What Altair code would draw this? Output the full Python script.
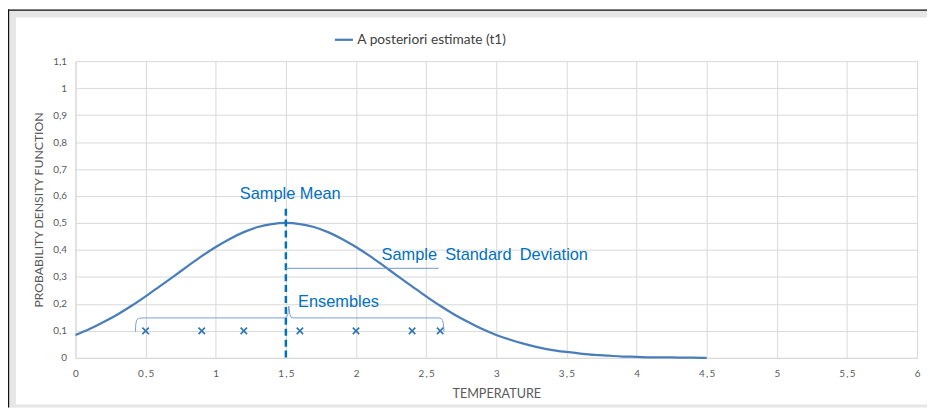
import altair as alt
import pandas as pd

# ---- data ----
temps = [0.0, 0.1, 0.2, 0.3, 0.4, 0.5, 0.6, 0.7, 0.8, 0.9, 1.0, 1.1, 1.2, 1.3, 1.4, 1.5,
         1.6, 1.7, 1.8, 1.9, 2.0, 2.1, 2.2, 2.3, 2.4, 2.5, 2.6, 2.7, 2.8, 2.9, 3.0,
         3.1, 3.2, 3.3, 3.4, 3.5, 3.6, 3.7, 3.8, 3.9, 4.0, 4.1, 4.2, 4.3, 4.4, 4.5]
pdf_vals = [0.085, 0.107, 0.133, 0.161, 0.193, 0.228, 0.265, 0.302, 0.340, 0.377, 0.411,
            0.441, 0.466, 0.485, 0.496, 0.500, 0.496, 0.485, 0.466, 0.441, 0.411, 0.377,
            0.340, 0.302, 0.265, 0.228, 0.193, 0.161, 0.133, 0.107, 0.085, 0.067, 0.052,
            0.039, 0.029, 0.022, 0.016, 0.011, 0.008, 0.005, 0.004, 0.002, 0.002, 0.001,
            0.001, 0.000]
series_name = "A posteriori estimate (t1)"

ensemble_x = [0.5, 0.9, 1.2, 1.6, 2.0, 2.4, 2.6]
ensemble_y = [0.1, 0.1, 0.1, 0.1, 0.1, 0.1, 0.1]

sample_mean = 1.5
mean_line_top = 0.553
mean_line_bottom = -0.01
std_end = 2.59
std_level = 0.332

brace_x = [0.427, 0.430, 0.436, 0.450, 0.470, 1.490, 1.505, 1.514, 1.521, 1.528, 1.537, 1.552,
           2.590, 2.607, 2.618, 2.624, 2.627]
brace_y = [0.097, 0.125, 0.140, 0.146, 0.148, 0.148, 0.151, 0.162, 0.192, 0.162, 0.151, 0.148,
           0.148, 0.146, 0.138, 0.122, 0.097]

labels_text = ["Sample Mean", "Sample\u2002Standard\u2002Deviation", "Ensembles"]
labels_x = [1.531, 2.182, 1.587]
labels_y = [0.608, 0.380, 0.207]
labels_align = ["center", "left", "left"]

x_ticks = [0, 0.5, 1, 1.5, 2, 2.5, 3, 3.5, 4, 4.5, 5, 5.5, 6]
y_ticks = [0, 0.1, 0.2, 0.3, 0.4, 0.5, 0.6, 0.7, 0.8, 0.9, 1, 1.1]

# ---- tables ----
curve_df = pd.DataFrame({"t": temps, "p": pdf_vals, "s": series_name})
ens_df = pd.DataFrame({"t": ensemble_x, "p": ensemble_y})
mean_df = pd.DataFrame({"t": [sample_mean], "p": [mean_line_top], "p2": [mean_line_bottom]})
std_df = pd.DataFrame({"t": [sample_mean], "t2": [std_end], "p": [std_level]})
brace_df = pd.DataFrame({"t": brace_x, "p": brace_y, "o": list(range(len(brace_x)))})
lab_df = pd.DataFrame({"txt": labels_text, "t": labels_x, "p": labels_y, "al": labels_align})

W, H = 848, 299
PADL, PADT, PADR, PADB = 68, 52, 10, 50

x_scale = alt.Scale(domain=[0, 6], nice=False)
y_scale = alt.Scale(domain=[0, 1.1], nice=False)

AXIS_GREY = "#595959"
FONT = "Lato"

x_axis = alt.Axis(values=x_ticks, tickCount=len(x_ticks), title="TEMPERATURE", grid=True, ticks=False,
                  labelExpr="replace(toString(datum.value), '.', '\u2009,\u2009')",
                  labelFont=FONT, labelFontSize=10, labelColor=AXIS_GREY, labelPadding=11,
                  labelOverlap=False,
                  titleFont=FONT, titleFontSize=12.7, titleFontWeight="normal",
                  titleColor=AXIS_GREY, titlePadding=9,
                  domainColor="#d9d9d9", gridColor="#d9d9d9", labelFlush=False)
y_axis = alt.Axis(values=y_ticks, tickCount=len(y_ticks), title="PROBABILITY DENSITY FUNCTION",
                  grid=True, ticks=False,
                  labelExpr="replace(toString(datum.value), '.', ',')",
                  labelFont=FONT, labelFontSize=10, labelColor=AXIS_GREY, labelPadding=9,
                  labelOverlap=False,
                  titleFont=FONT, titleFontSize=12.3, titleFontWeight="normal",
                  titleColor=AXIS_GREY, titlePadding=7,
                  domainColor="#d9d9d9", gridColor="#d9d9d9")

X = alt.X("t:Q", scale=x_scale, axis=x_axis)
Y = alt.Y("p:Q", scale=y_scale, axis=y_axis)

one = alt.Data(values=[{"a": 1}])
FRAME = "#e6e6e6"

frame_left = alt.Chart(one).mark_rect(color=FRAME).encode(
    x=alt.value(-PADL), x2=alt.value(-PADL + 8), y=alt.value(-PADT), y2=alt.value(H + PADB))
frame_top = alt.Chart(one).mark_rect(color=FRAME).encode(
    x=alt.value(-PADL), x2=alt.value(W + PADR), y=alt.value(-PADT), y2=alt.value(-PADT + 8))
frame_bottom = alt.Chart(one).mark_rect(color=FRAME).encode(
    x=alt.value(-PADL), x2=alt.value(W + PADR), y=alt.value(H + PADB - 3), y2=alt.value(H + PADB))
black_v = alt.Chart(one).mark_rule(color="#111111", strokeWidth=1.2).encode(
    x=alt.value(-PADL + 0.6), y=alt.value(-PADT), y2=alt.value(H + PADB))
black_h = alt.Chart(one).mark_rule(color="#111111", strokeWidth=1.2).encode(
    x=alt.value(-PADL), x2=alt.value(W + PADR), y=alt.value(-PADT + 0.6))

curve = alt.Chart(curve_df).mark_line(strokeWidth=2.25, interpolate="monotone").encode(
    x=X, y=Y,
    color=alt.Color("s:N", scale=alt.Scale(domain=[series_name], range=["#4a7ebb"]),
                    legend=alt.Legend(title=None, orient="none", legendX=260, legendY=-32,
                                      symbolType="stroke", symbolSize=330, symbolStrokeWidth=2.25,
                                      labelFont=FONT, labelFontSize=13.8, labelColor="#404040",
                                      labelOffset=3))
)

mean_rule = alt.Chart(mean_df).mark_rule(color="#0070c0", strokeWidth=2.5, strokeDash=[7, 4]).encode(
    x="t:Q", y="p:Q", y2="p2:Q")
std_rule = alt.Chart(std_df).mark_rule(color="#6f95cf", strokeWidth=1).encode(
    x="t:Q", x2="t2:Q", y="p:Q")
brace = alt.Chart(brace_df).mark_line(color="#7b9fd6", strokeWidth=1).encode(
    x="t:Q", y="p:Q", order="o:Q")
crosses = alt.Chart(ens_df).mark_point(shape="M-1,-1L1,1M-1,1L1,-1", size=42, filled=False,
                                       color="#2e75b6", strokeWidth=1.6, opacity=1).encode(
    x="t:Q", y="p:Q")

text_layers = []
for i in range(len(labels_text)):
    d = lab_df.iloc[[i]]
    text_layers.append(
        alt.Chart(d).mark_text(font="Liberation Sans", fontSize=16.5, color="#0070c0",
                               align=labels_align[i], baseline="middle").encode(
            x="t:Q", y="p:Q", text="txt:N"))

chart = alt.layer(
    frame_left, frame_top, frame_bottom, black_v, black_h,
    curve, mean_rule, std_rule, brace, crosses, *text_layers
).properties(
    width=W, height=H,
    autosize=alt.AutoSizeParams(type="none"),
    padding={"left": PADL, "top": PADT, "right": PADR, "bottom": PADB},
    background="white",
).configure_view(stroke=None)

chart.save("out.html", embed_options={"renderer": "svg", "actions": False})
